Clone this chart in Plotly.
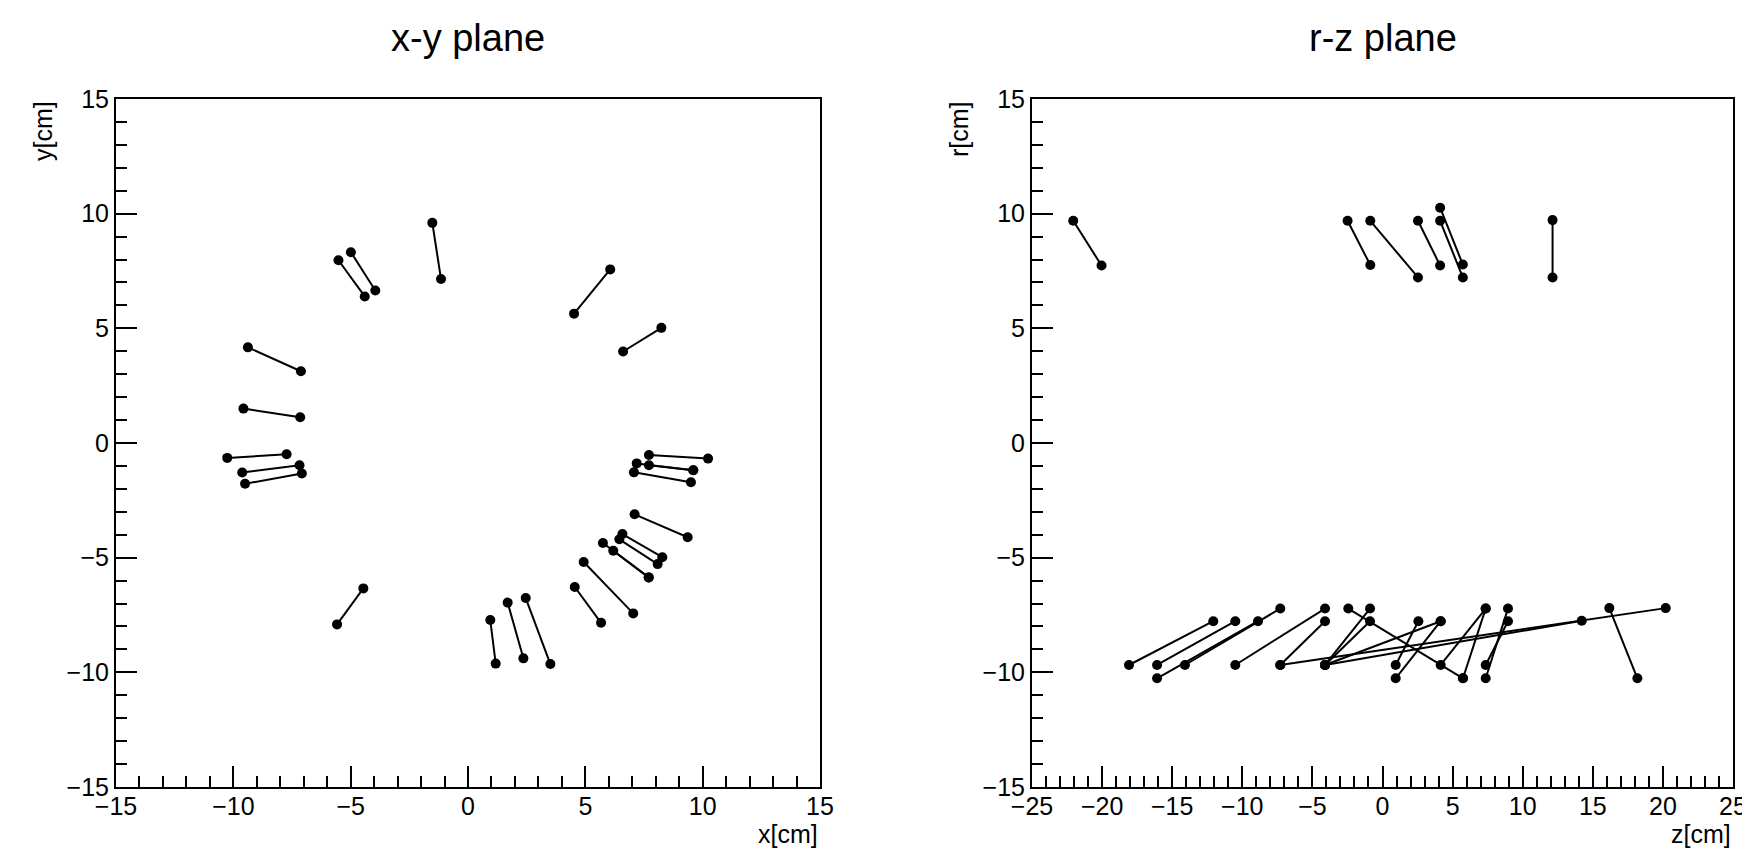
import plotly.graph_objects as go

# ---- x-y plane segments (inner/outer hit pairs) ----
xy_x1 = [-1.52, -5.52, -4.99, -9.38, -9.57, 4.52, 6.61,
         -10.26, -9.62, -9.50, -5.58, 10.23, 9.60, 9.60, 9.50,
         1.18, 2.36, 3.51, 5.67, 7.04, 7.70, 7.70, 8.28, 8.08, 9.36]
xy_y1 = [9.60, 7.97, 8.32, 4.17, 1.50, 5.64, 3.99,
         -0.65, -1.29, -1.78, -7.91, -0.68, -1.19, -1.19, -1.71,
         -9.62, -9.39, -9.64, -7.84, -7.43, -5.86, -5.86, -4.98, -5.28, -4.11]
xy_x2 = [-1.15, -4.40, -3.95, -7.12, -7.15, 6.06, 8.24,
         -7.73, -7.18, -7.08, -4.46, 7.71, 7.71, 7.19, 7.07,
         0.95, 1.69, 2.46, 4.55, 4.93, 5.75, 6.19, 6.58, 6.45, 7.10]
xy_y2 = [7.15, 6.39, 6.65, 3.13, 1.12, 7.57, 5.02,
         -0.49, -0.97, -1.33, -6.34, -0.52, -0.97, -0.89, -1.28,
         -7.72, -6.96, -6.76, -6.28, -5.19, -4.36, -4.70, -3.97, -4.20, -3.11]

# ---- r-z plane segments ----
rz_z1 = [-22.06, -2.49, -0.87, 2.53, 4.11, 4.11, 12.13,
         -18.08, -16.08, -16.08, -14.09, -10.50, -7.29, -7.29, -4.10, -4.10,
         -4.10, -4.10, 5.74, 0.94, 0.94, 4.15, 5.74, 7.36, 7.36, 18.18]
rz_r1 = [9.69, 9.69, 9.69, 9.69, 10.26, 9.69, 9.72,
         -9.68, -9.68, -10.26, -9.68, -9.68, -9.68, -9.68, -9.68, -9.68,
         -9.68, -9.68, -10.26, -9.68, -10.26, -9.68, -10.26, -9.68, -10.26, -10.26]
rz_z2 = [-20.04, -0.87, 2.53, 4.11, 5.73, 5.73, 12.13,
         -12.07, -10.50, -8.88, -7.29, -4.10, -4.10, 20.20, 14.21, -0.89,
         -0.89, 4.15, -2.44, 2.56, 4.15, 7.36, 7.36, 8.95, 8.95, 16.18]
rz_r2 = [7.74, 7.76, 7.22, 7.74, 7.78, 7.22, 7.22,
         -7.77, -7.77, -7.77, -7.22, -7.22, -7.77, -7.20, -7.75, -7.22,
         -7.77, -7.77, -7.22, -7.77, -7.77, -7.22, -7.22, -7.77, -7.22, -7.20]

# panel titles / axis titles
panel_titles = ["x-y plane", "r-z plane"]
axis_titles = {"x": "x[cm]", "y": "y[cm]", "z": "z[cm]", "r": "r[cm]"}


def seg_coords(a1, b1, a2, b2):
    xs, ys = [], []
    for p, q, r, s in zip(a1, b1, a2, b2):
        xs += [p, r, None]
        ys += [q, s, None]
    return xs, ys


W, H = 1742, 848
FONT = "Liberation Sans, Arial, Helvetica, sans-serif"

fig = go.Figure()
xs, ys = seg_coords(xy_x1, xy_y1, xy_x2, xy_y2)
fig.add_trace(go.Scatter(x=xs, y=ys, mode="lines+markers", xaxis="x", yaxis="y",
                         line=dict(color="black", width=2),
                         marker=dict(color="black", size=10), showlegend=False,
                         connectgaps=False))
zs, rs = seg_coords(rz_z1, rz_r1, rz_z2, rz_r2)
fig.add_trace(go.Scatter(x=zs, y=rs, mode="lines+markers", xaxis="x2", yaxis="y2",
                         line=dict(color="black", width=2),
                         marker=dict(color="black", size=10), showlegend=False,
                         connectgaps=False))

L1, R1 = 116, 820
L2, R2 = 1032, 1733
TOP, BOT = 99, 787


def axis_common(rng, domain, anchor, standoff=0):
    return dict(
        range=rng, domain=domain, anchor=anchor, automargin=False,
        showgrid=False, zeroline=False,
        showline=True, mirror=True, linecolor="black", linewidth=2,
        ticks="inside", ticklen=21, tickwidth=2, tickcolor="black",
        dtick=5, tick0=0, ticklabeloverflow="allow",
        ticklabelstandoff=standoff,
        minor=dict(dtick=1, ticks="inside", ticklen=11, tickwidth=2,
                   tickcolor="black", showgrid=False),
        tickfont=dict(family=FONT, size=25, color="black"),
    )


ydom = [1 - BOT / H, 1 - TOP / H]
fig.update_layout(
    template="none",
    width=W, height=H,
    margin=dict(l=0, r=0, t=0, b=0, pad=0, autoexpand=False),
    paper_bgcolor="white", plot_bgcolor="white",
    showlegend=False,
    xaxis=axis_common([-15, 15], [L1 / W, R1 / W], "y", -4),
    yaxis=axis_common([-15, 15], ydom, "x"),
    xaxis2=axis_common([-25, 25], [L2 / W, R2 / W], "y2", -4),
    yaxis2=axis_common([-15, 15], ydom, "x2"),
)

ann = []
for title, l, r in [(panel_titles[0], L1, R1), (panel_titles[1], L2, R2)]:
    ann.append(dict(text=title, x=(l + r) / 2 / W, y=1 - 38 / H, xref="paper", yref="paper",
                    xanchor="center", yanchor="middle", showarrow=False,
                    font=dict(family=FONT, size=38, color="black")))
for t, r in [(axis_titles["x"], R1), (axis_titles["z"], R2)]:
    ann.append(dict(text=t, x=r / W, y=1 - 834 / H, xref="paper", yref="paper",
                    xanchor="right", yanchor="middle", showarrow=False,
                    font=dict(family=FONT, size=25, color="black")))
for t, l in [(axis_titles["y"], L1), (axis_titles["r"], L2)]:
    ann.append(dict(text=t, x=(l - 73) / W, y=1 - TOP / H, xref="paper", yref="paper",
                    xanchor="center", yanchor="top", textangle=-90, showarrow=False,
                    font=dict(family=FONT, size=25, color="black")))
fig.update_layout(annotations=ann)

fig.write_html("out.html", config={"displayModeBar": False},
               post_script="document.body.style.margin='0';")
